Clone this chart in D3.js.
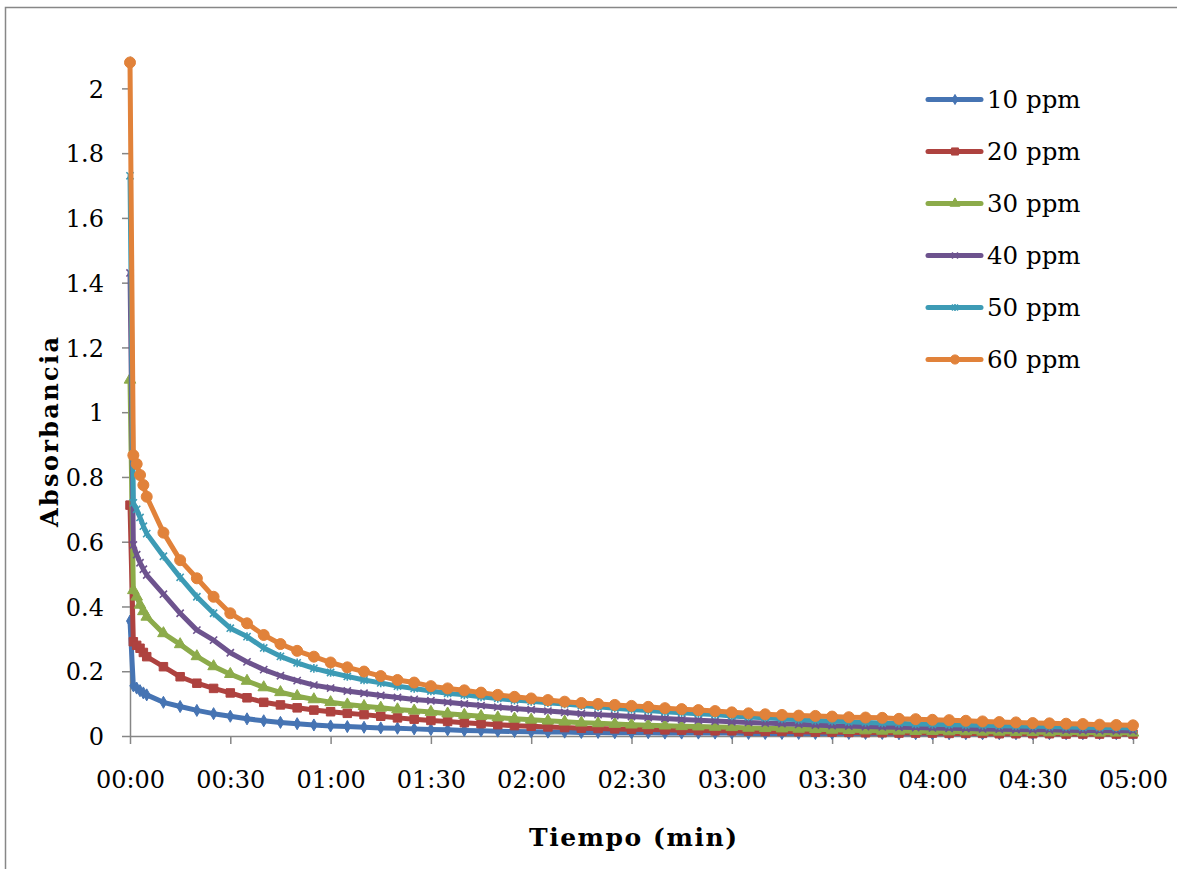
<!DOCTYPE html>
<html>
<head>
<meta charset="utf-8">
<script src="https://cdn.jsdelivr.net/npm/d3@7"></script>
<style>
  body { margin: 0; background: #fff; }
  text { font-family: "DejaVu Serif", serif; fill: #000; }
</style>
</head>
<body>
<div id="chart"></div>
<script>
// tiempo en segundos
var tiempos = [0, 1, 2, 3, 4, 5,
  10, 15, 20, 25, 30, 35, 40, 45, 50, 55,
  60, 65, 70, 75, 80, 85, 90, 95, 100, 105,
  110, 115, 120, 125, 130, 135, 140, 145, 150, 155,
  160, 165, 170, 175, 180, 185, 190, 195, 200, 205,
  210, 215, 220, 225, 230, 235, 240, 245, 250, 255,
  260, 265, 270, 275, 280, 285, 290, 295, 300];

var ppm10 = [0.355, 0.155, 0.148, 0.140, 0.133, 0.127,
  0.104, 0.091, 0.079, 0.069, 0.061, 0.053, 0.047, 0.042, 0.038, 0.034,
  0.031, 0.029, 0.027, 0.025, 0.024, 0.022, 0.020, 0.019, 0.017, 0.016,
  0.015, 0.014, 0.013, 0.012, 0.012, 0.011, 0.011, 0.010, 0.010, 0.010,
  0.009, 0.009, 0.009, 0.009, 0.009, 0.008, 0.008, 0.008, 0.008, 0.008,
  0.008, 0.008, 0.008, 0.008, 0.007, 0.007, 0.007, 0.007, 0.007, 0.007,
  0.007, 0.007, 0.007, 0.007, 0.007, 0.007, 0.007, 0.007, 0.007];

var ppm20 = [0.713, 0.291, 0.280, 0.271, 0.258, 0.245,
  0.214, 0.183, 0.163, 0.147, 0.133, 0.118, 0.104, 0.096, 0.087, 0.080,
  0.075, 0.070, 0.066, 0.061, 0.056, 0.052, 0.048, 0.045, 0.041, 0.038,
  0.035, 0.032, 0.030, 0.028, 0.026, 0.024, 0.023, 0.022, 0.021, 0.020,
  0.019, 0.018, 0.017, 0.016, 0.016, 0.015, 0.014, 0.014, 0.013, 0.012,
  0.012, 0.011, 0.010, 0.010, 0.009, 0.009, 0.009, 0.008, 0.008, 0.008,
  0.007, 0.007, 0.007, 0.007, 0.006, 0.006, 0.006, 0.006, 0.006];

var ppm30 = [1.10, 0.45, 0.43, 0.405, 0.385, 0.368,
  0.317, 0.283, 0.246, 0.215, 0.191, 0.170, 0.150, 0.135, 0.123, 0.113,
  0.104, 0.097, 0.092, 0.087, 0.082, 0.078, 0.074, 0.069, 0.065, 0.061,
  0.057, 0.053, 0.050, 0.047, 0.044, 0.041, 0.039, 0.037, 0.035, 0.033,
  0.032, 0.030, 0.029, 0.028, 0.027, 0.025, 0.024, 0.023, 0.022, 0.021,
  0.019, 0.018, 0.017, 0.016, 0.016, 0.015, 0.015, 0.014, 0.014, 0.013,
  0.013, 0.012, 0.012, 0.011, 0.011, 0.011, 0.010, 0.010, 0.010];

var ppm40 = [1.43, 0.59, 0.56, 0.535, 0.515, 0.497,
  0.438, 0.379, 0.327, 0.296, 0.257, 0.229, 0.205, 0.186, 0.171, 0.157,
  0.148, 0.139, 0.132, 0.125, 0.119, 0.113, 0.109, 0.104, 0.099, 0.094,
  0.089, 0.085, 0.081, 0.077, 0.073, 0.069, 0.066, 0.063, 0.060, 0.057,
  0.054, 0.051, 0.049, 0.046, 0.044, 0.042, 0.040, 0.038, 0.036, 0.034,
  0.032, 0.031, 0.029, 0.028, 0.027, 0.026, 0.025, 0.024, 0.023, 0.022,
  0.021, 0.020, 0.019, 0.019, 0.018, 0.017, 0.017, 0.016, 0.016];

var ppm50 = [1.73, 0.72, 0.70, 0.675, 0.648, 0.625,
  0.555, 0.490, 0.430, 0.379, 0.333, 0.307, 0.272, 0.246, 0.226, 0.209,
  0.196, 0.184, 0.173, 0.164, 0.154, 0.147, 0.139, 0.132, 0.127, 0.121,
  0.116, 0.111, 0.107, 0.103, 0.099, 0.094, 0.090, 0.086, 0.082, 0.079,
  0.075, 0.072, 0.069, 0.066, 0.062, 0.059, 0.056, 0.053, 0.050, 0.048,
  0.046, 0.044, 0.042, 0.040, 0.039, 0.037, 0.036, 0.035, 0.034, 0.033,
  0.032, 0.031, 0.030, 0.029, 0.028, 0.027, 0.026, 0.026, 0.025];

var ppm60 = [2.08, 0.867, 0.840, 0.806, 0.775, 0.739,
  0.628, 0.543, 0.487, 0.430, 0.379, 0.348, 0.312, 0.284, 0.263, 0.245,
  0.227, 0.212, 0.199, 0.185, 0.173, 0.165, 0.154, 0.147, 0.141, 0.134,
  0.127, 0.121, 0.116, 0.111, 0.106, 0.102, 0.099, 0.096, 0.093, 0.090,
  0.086, 0.083, 0.080, 0.077, 0.073, 0.070, 0.067, 0.065, 0.063, 0.062,
  0.060, 0.058, 0.057, 0.056, 0.053, 0.052, 0.050, 0.049, 0.047, 0.045,
  0.043, 0.042, 0.040, 0.039, 0.038, 0.037, 0.035, 0.034, 0.033];

var nombres = ["10 ppm", "20 ppm", "30 ppm", "40 ppm", "50 ppm", "60 ppm"];
var xTicks = [0, 30, 60, 90, 120, 150, 180, 210, 240, 270, 300];
var yTicks = [0, 0.2, 0.4, 0.6, 0.8, 1, 1.2, 1.4, 1.6, 1.8, 2];

// marcadores tipo Excel (x y asterisco hechos a mano)
var symbolX = {
  draw: function(ctx, size) {
    var r = Math.sqrt(size) / 2;
    ctx.moveTo(-r, -r); ctx.lineTo(r, r);
    ctx.moveTo(r, -r); ctx.lineTo(-r, r);
  }
};
var symbolStar = {
  draw: function(ctx, size) {
    var r = Math.sqrt(size) / 2;
    ctx.moveTo(-r, -r); ctx.lineTo(r, r);
    ctx.moveTo(r, -r); ctx.lineTo(-r, r);
    ctx.moveTo(0, -r * 1.2); ctx.lineTo(0, r * 1.2);
  }
};

var series = [
  {name: nombres[0], values: ppm10, color: "#4674B3", symbol: d3.symbolDiamond, size: 42, filled: true},
  {name: nombres[1], values: ppm20, color: "#AE423F", symbol: d3.symbolSquare, size: 72, filled: true},
  {name: nombres[2], values: ppm30, color: "#8CAB4A", symbol: d3.symbolTriangle, size: 58, filled: true},
  {name: nombres[3], values: ppm40, color: "#6D538E", symbol: symbolX, size: 52, filled: false},
  {name: nombres[4], values: ppm50, color: "#3D9BB5", symbol: symbolStar, size: 52, filled: false},
  {name: nombres[5], values: ppm60, color: "#E1823A", symbol: d3.symbolCircle, size: 95, filled: true}
];

var svgWidth = 1177;
var svgHeight = 869;

var svg = d3.select("#chart")
  .append("svg")
  .attr("width", svgWidth)
  .attr("height", svgHeight);

svg.append("rect")
  .attr("width", svgWidth)
  .attr("height", svgHeight)
  .attr("fill", "#fff");

// borde del area del grafico (se corta por la derecha y abajo)
svg.append("rect")
  .attr("x", 5.5)
  .attr("y", 7.5)
  .attr("width", 1300)
  .attr("height", 1000)
  .attr("fill", "none")
  .attr("stroke", "#878787")
  .attr("stroke-width", 1.5);

var xScale = d3.scaleLinear().domain([0, 300]).range([130, 1133]);
var yScale = d3.scaleLinear().domain([0, 2.1]).range([736, 56]);

function fmtTiempo(s) {
  var m = Math.floor(s / 60);
  var r = s % 60;
  return String(m).padStart(2, "0") + ":" + String(r).padStart(2, "0");
}

var xAxis = svg.append("g")
  .attr("transform", "translate(0, " + yScale(0) + ")")
  .call(d3.axisBottom(xScale)
    .tickValues(xTicks)
    .tickFormat(fmtTiempo)
    .tickSizeInner(8)
    .tickSizeOuter(0)
    .tickPadding(27));

var yAxis = svg.append("g")
  .attr("transform", "translate(" + xScale(0) + ", 0)")
  .call(d3.axisLeft(yScale)
    .tickValues(yTicks)
    .tickFormat(d => String(+d.toFixed(1)))
    .tickSizeInner(8)
    .tickSizeOuter(0)
    .tickPadding(18));

[xAxis, yAxis].forEach(function(ax) {
  ax.selectAll("path, line")
    .attr("stroke", "#868686")
    .attr("stroke-width", 1.5);
  ax.selectAll("text")
    .style("font-family", "'DejaVu Serif', serif")
    .style("font-size", "24px")
    .attr("fill", "#000");
});
yAxis.selectAll("text").attr("dy", "0.36em");

var line = d3.line()
  .x((d, i) => xScale(tiempos[i]))
  .y(d => yScale(d));

series.forEach(function(s) {
  var g = svg.append("g");

  g.append("path")
    .datum(s.values)
    .attr("d", line)
    .attr("fill", "none")
    .attr("stroke", s.color)
    .attr("stroke-width", 5)
    .attr("stroke-linejoin", "round")
    .attr("stroke-linecap", "round");

  g.selectAll(".marker")
    .data(s.values)
    .enter()
    .append("path")
    .attr("class", "marker")
    .attr("transform", (d, i) => "translate(" + xScale(tiempos[i]) + "," + yScale(d) + ")")
    .attr("d", d3.symbol().type(s.symbol).size(s.size))
    .attr("fill", s.filled ? s.color : "none")
    .attr("stroke", s.color)
    .attr("stroke-width", s.filled ? 1 : 1.6);
});

// leyenda
var legend = svg.append("g");

series.forEach(function(s, i) {
  var ly = 99.5 + i * 52;
  legend.append("line")
    .attr("x1", 928)
    .attr("x2", 981)
    .attr("y1", ly)
    .attr("y2", ly)
    .attr("stroke", s.color)
    .attr("stroke-width", 5)
    .attr("stroke-linecap", "round");

  legend.append("path")
    .attr("transform", "translate(955," + ly + ")")
    .attr("d", d3.symbol().type(s.symbol).size(s.size * 0.7))
    .attr("fill", s.filled ? s.color : "none")
    .attr("stroke", s.color)
    .attr("stroke-width", s.filled ? 1 : 1.6);

  legend.append("text")
    .attr("x", 987)
    .attr("y", ly)
    .attr("dy", "0.36em")
    .style("font-size", "24.5px")
    .text(s.name);
});

// titulos de los ejes
svg.append("text")
  .attr("x", 633)
  .attr("y", 846)
  .attr("text-anchor", "middle")
  .attr("textLength", 208)
  .attr("lengthAdjust", "spacing")
  .style("font-size", "25px")
  .style("font-weight", "bold")
  .text("Tiempo (min)");

svg.append("text")
  .attr("transform", "translate(58, 432) rotate(-90)")
  .attr("text-anchor", "middle")
  .attr("textLength", 190)
  .attr("lengthAdjust", "spacing")
  .style("font-size", "24px")
  .style("font-weight", "bold")
  .text("Absorbancia");
</script>
</body>
</html>
